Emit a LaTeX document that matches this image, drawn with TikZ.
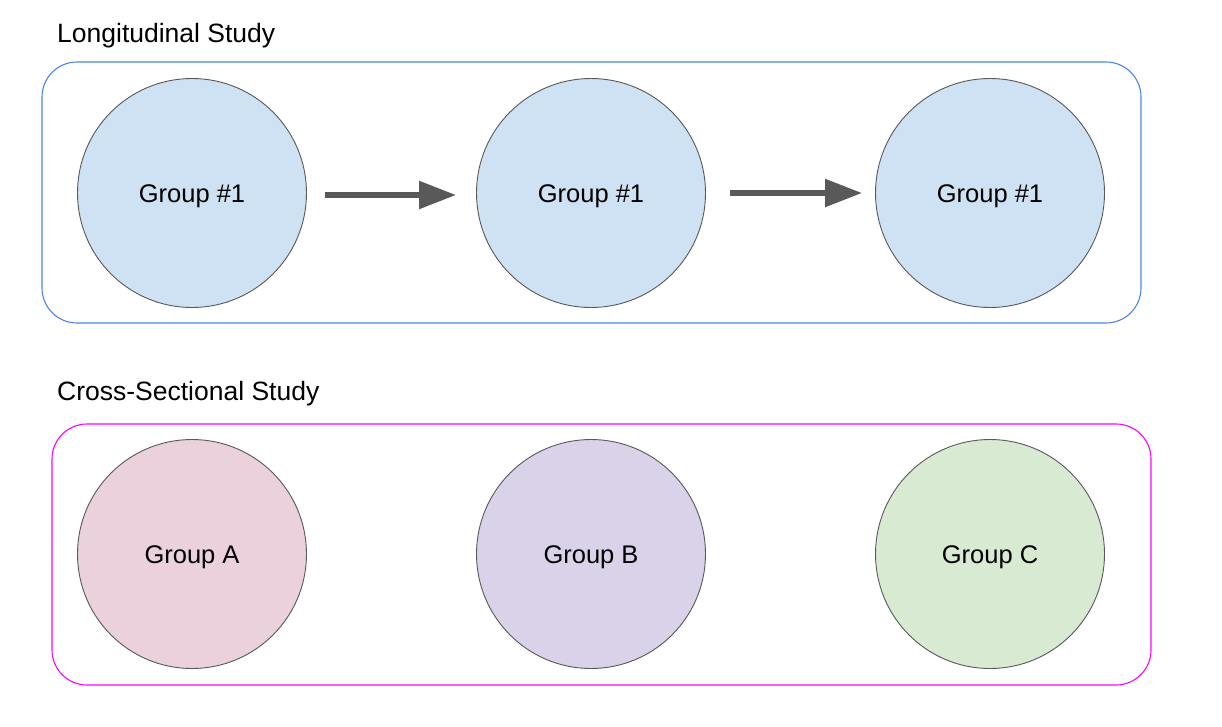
\documentclass[tikz,border=0pt]{standalone}
\usepackage{fontspec}
\setmainfont{Liberation Sans}
\usetikzlibrary{arrows.meta}
\definecolor{boxblue}{HTML}{4A86E8}
\definecolor{boxpink}{HTML}{FF00FF}
\definecolor{cblue}{HTML}{CFE2F3}
\definecolor{cpink}{HTML}{EAD1DC}
\definecolor{cpurple}{HTML}{D9D2E9}
\definecolor{cgreen}{HTML}{D9EAD3}
\definecolor{edgegray}{HTML}{595959}
\newcommand{\grplabel}[1]{\raisebox{-3pt}[\height][\depth]{#1}}
\tikzset{
  grp/.style={circle, draw=edgegray, line width=0.9pt, minimum size=229pt, inner sep=0pt, font=\fontsize{25.5}{30}\selectfont},
  frame/.style={rounded corners=35pt, line width=1.1pt},
  title/.style={anchor=base west, font=\fontsize{26.5}{31}\selectfont, inner sep=0pt},
  flow/.style={draw=edgegray, line width=5.5pt, -{Triangle[length=37pt,width=27pt]}}
}
\begin{document}
\begin{tikzpicture}[x=1pt,y=-1pt]
\useasboundingbox (0,0) rectangle (1222,726);
\node[title] (t1) at (57,42) {Longitudinal Study};
\draw[frame, draw=boxblue] (42,62) rectangle (1141,323);
\node[grp, fill=cblue] (g1) at (192,193) {\grplabel{Group \#1}};
\node[grp, fill=cblue] (g2) at (591,193) {\grplabel{Group \#1}};
\node[grp, fill=cblue] (g3) at (990,193) {\grplabel{Group \#1}};
\coordinate (a1s) at (325,195); \coordinate (a1e) at (456,195);
\coordinate (a2s) at (730,193); \coordinate (a2e) at (862,193);
\draw[flow] (a1s) -- (a1e);
\draw[flow] (a2s) -- (a2e);
\node[title] (t2) at (57,400) {Cross-Sectional Study};
\draw[frame, draw=boxpink] (52,424) rectangle (1151,685);
\node[grp, fill=cpink] (ga) at (192,554) {\grplabel{Group A}};
\node[grp, fill=cpurple] (gb) at (591,554) {\grplabel{Group B}};
\node[grp, fill=cgreen] (gc) at (990,554) {\grplabel{Group C}};
\end{tikzpicture}
\end{document}
